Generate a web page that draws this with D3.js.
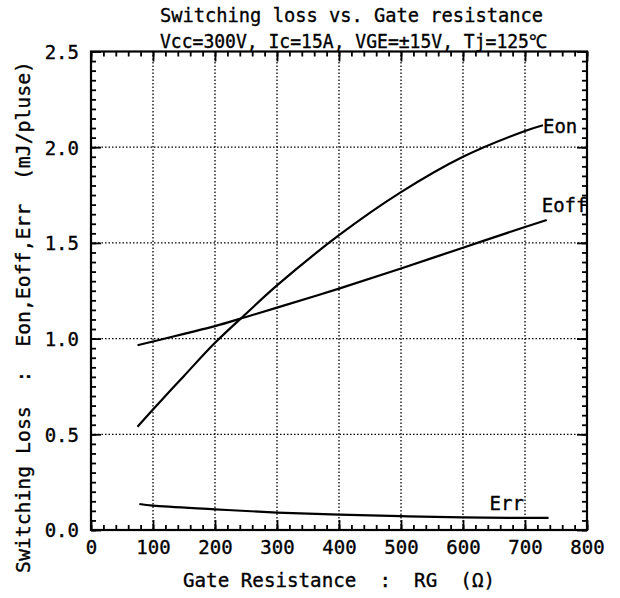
<!DOCTYPE html>
<html>
<head>
<meta charset="utf-8">
<script src="https://cdn.jsdelivr.net/npm/d3@7"></script>
<style>
  html, body { margin: 0; padding: 0; background: #fff; }
  svg { display: block; }
  text { font-family: "DejaVu Sans Mono", "Liberation Mono", monospace; fill: #000; white-space: pre; stroke: #000; stroke-width: 0.35px; }
</style>
</head>
<body>
<svg id="chart" width="620" height="598"></svg>
<script>
// ---- data ----
const titleText = "Switching loss vs. Gate resistance";
const subtitleText = "Vcc=300V, Ic=15A, VGE=±15V, Tj=125℃";
const xTitle = "Gate Resistance  :  RG  (Ω)";
const yTitle = "Switching Loss  :  Eon,Eoff,Err  (mJ/pluse)";

const xTicks = [0, 100, 200, 300, 400, 500, 600, 700, 800];
const yTicks = [0.0, 0.5, 1.0, 1.5, 2.0, 2.5];

const eonRG  = [75, 100, 150, 200, 250, 300, 400, 500, 600, 700, 729];
const eonVal = [0.54, 0.63, 0.805, 0.978, 1.13, 1.278, 1.54, 1.765, 1.95, 2.085, 2.115];

const eoffRG  = [75, 100, 150, 200, 250, 300, 400, 500, 600, 700, 735];
const eoffVal = [0.965, 0.985, 1.025, 1.065, 1.113, 1.162, 1.261, 1.366, 1.475, 1.583, 1.62];

const errRG  = [78, 100, 200, 300, 400, 500, 600, 700, 738];
const errVal = [0.136, 0.127, 0.108, 0.091, 0.080, 0.072, 0.066, 0.063, 0.063];

const seriesNames = ["Eon", "Eoff", "Err"];

// ---- layout ----
const svg = d3.select("#chart");
const L = 91, R = 587, T = 51.5, B = 530;
const x = d3.scaleLinear().domain([0, 800]).range([L, R]);
const y = d3.scaleLinear().domain([0, 2.5]).range([B, T]);

svg.append("rect").attr("width", 620).attr("height", 598).attr("fill", "#fff");

// grid (dotted)
const grid = svg.append("g");
grid.selectAll("line.vx").data(xTicks.slice(1, -1)).join("line")
  .attr("x1", d => x(d)).attr("x2", d => x(d)).attr("y1", T).attr("y2", B)
  .attr("stroke", "#000").attr("stroke-width", 1.3).attr("stroke-dasharray", "1.5,2");
grid.selectAll("line.hy").data(yTicks.slice(1, -1)).join("line")
  .attr("x1", L).attr("x2", R).attr("y1", d => y(d)).attr("y2", d => y(d))
  .attr("stroke", "#000").attr("stroke-width", 1.3).attr("stroke-dasharray", "1.5,2");

// axes with inward ticks on all four sides
const xMinor = d3.range(0, 801, 20);
const yMinor = d3.range(0, 51).map(i => i * 0.05);

function styleAxis(g) {
  g.select(".domain").remove();
  g.selectAll(".tick line").attr("stroke", "#000").attr("stroke-width", 1.8);
}

svg.append("g").attr("transform", `translate(0,${B})`)
  .call(d3.axisBottom(x).tickValues(xMinor).tickSize(-5).tickFormat("")).call(styleAxis);
svg.append("g").attr("transform", `translate(0,${T})`)
  .call(d3.axisTop(x).tickValues(xMinor).tickSize(-5).tickFormat("")).call(styleAxis);
svg.append("g").attr("transform", `translate(0,${T})`)
  .call(d3.axisTop(x).tickValues(xTicks).tickSize(-10).tickFormat("")).call(styleAxis);
svg.append("g").attr("transform", `translate(${L},0)`)
  .call(d3.axisLeft(y).tickValues(yMinor).tickSize(-5).tickFormat("")).call(styleAxis);
svg.append("g").attr("transform", `translate(${R},0)`)
  .call(d3.axisRight(y).tickValues(yMinor).tickSize(-5).tickFormat("")).call(styleAxis);
svg.append("g").attr("transform", `translate(${R},0)`)
  .call(d3.axisRight(y).tickValues(yTicks).tickSize(-10).tickFormat("")).call(styleAxis);

const xAxis = svg.append("g").attr("transform", `translate(0,${B})`)
  .call(d3.axisBottom(x).tickValues(xTicks).tickSize(-10).tickPadding(11).tickFormat(d3.format("d")))
  .call(styleAxis);
xAxis.selectAll("text").attr("font-family", "DejaVu Sans Mono").attr("font-size", 19);

const yAxis = svg.append("g").attr("transform", `translate(${L},0)`)
  .call(d3.axisLeft(y).tickValues(yTicks).tickSize(-10).tickPadding(12).tickFormat(d3.format(".1f")))
  .call(styleAxis);
yAxis.selectAll("text").attr("font-family", "DejaVu Sans Mono").attr("font-size", 19).attr("dy", "0.36em");

// frame
svg.append("rect").attr("x", L).attr("y", T).attr("width", R - L).attr("height", B - T)
  .attr("fill", "none").attr("stroke", "#000").attr("stroke-width", 2.2);

// curves
const line = d3.line().x(d => x(d[0])).y(d => y(d[1])).curve(d3.curveCatmullRom.alpha(0.5));
const series = [
  d3.zip(eonRG, eonVal),
  d3.zip(eoffRG, eoffVal),
  d3.zip(errRG, errVal)
];
svg.append("g").selectAll("path").data(series).join("path")
  .attr("d", line).attr("fill", "none").attr("stroke", "#000").attr("stroke-width", 2.2);

// series labels
const lastEon = series[0][series[0].length - 1];
const lastEoff = series[1][series[1].length - 1];
const lastErr = series[2][series[2].length - 1];
svg.append("text").text(seriesNames[0]).attr("font-size", 19)
  .attr("x", x(lastEon[0]) + 0).attr("y", y(lastEon[1]) + 8);
svg.append("text").text(seriesNames[1]).attr("font-size", 19)
  .attr("x", x(lastEoff[0]) - 5).attr("y", y(lastEoff[1]) - 8);
svg.append("text").text(seriesNames[2]).attr("font-size", 19)
  .attr("x", x(lastErr[0]) - 59).attr("y", y(lastErr[1]) - 8);

// titles
svg.append("text").text(titleText).attr("x", 160).attr("y", 22)
  .attr("font-size", 20).attr("textLength", 383).attr("lengthAdjust", "spacingAndGlyphs");
svg.append("text").text(subtitleText).attr("x", 160).attr("y", 47.5)
  .attr("font-size", 19).attr("textLength", 387).attr("lengthAdjust", "spacingAndGlyphs");

svg.append("text").text(xTitle).attr("x", 339).attr("y", 587)
  .attr("text-anchor", "middle").attr("font-size", 19)
  .attr("textLength", 312).attr("lengthAdjust", "spacingAndGlyphs");

svg.append("text").text(yTitle)
  .attr("transform", "translate(30,317) rotate(-90)")
  .attr("text-anchor", "middle").attr("font-size", 20)
  .attr("textLength", 512).attr("lengthAdjust", "spacingAndGlyphs");
</script>
</body>
</html>
